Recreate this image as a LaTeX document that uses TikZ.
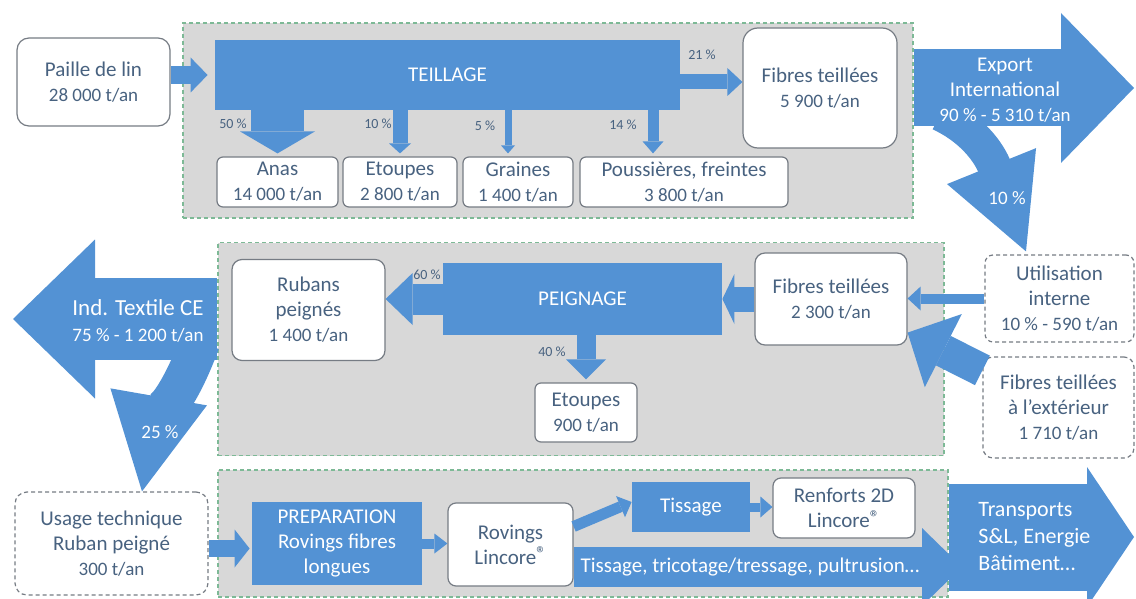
\documentclass[tikz,border=0pt]{standalone}
\usepackage{fontspec}
\setmainfont{Carlito}
\usetikzlibrary{arrows.meta}

\definecolor{flow}{RGB}{83,146,212}
\definecolor{grpgray}{RGB}{216,216,216}
\definecolor{grpline}{RGB}{125,185,150}
\definecolor{boxline}{RGB}{118,124,132}
\definecolor{txt}{RGB}{72,98,128}

\newcommand{\val}[1]{{\fontsize{9.5}{12}\selectfont #1}}
\newcommand{\reg}{\raisebox{0.35ex}{\fontsize{10}{10}\selectfont ®}}

\tikzset{
	group/.style={draw=grpline, fill=grpgray, dash pattern=on 2pt off 1.5pt, line width=0.6pt, inner sep=0pt},
	wh/.style 2 args={minimum width=#1, minimum height=#2},
	box/.style={draw=boxline, fill=white, rounded corners=3pt, line width=0.6pt, align=center, text=txt, inner sep=0pt, font=\fontsize{10.5}{12.5}\selectfont},
	dbox/.style={box, dash pattern=on 2pt off 1.5pt},
	proc/.style={fill=flow, text=white, align=center, inner sep=0pt, font=\fontsize{10.5}{12.5}\selectfont},
	fat/.style n args={3}{draw=flow, line width=#1, -{Triangle[width=#2, length=#3, line width=0pt]}},
	pct/.style={text=txt, inner sep=0pt, font=\fontsize{7}{8}\selectfont},
	wlab/.style={text=white, align=center, inner sep=0pt, font=\fontsize{10.5}{12.5}\selectfont}
}

\begin{document}
\begin{tikzpicture}[x=0.5pt, y=-0.5pt]
	\useasboundingbox (0,0) rectangle (1136,599);
	\clip (0,0) rectangle (1136,599);

%% the three grey zones
	\node[group, wh={365pt}{97.5pt}] (teilbox) at (548,120.5) {};
	\node[group, wh={363pt}{106.5pt}] (peigbox) at (581,349) {};
	\node[group, wh={365pt}{63.5pt}] (prepbox) at (583,533.5) {};

%% teillage
	\node[box, rounded corners=6pt, wh={76.5pt}{44pt}] (paille) at (93.5,82) {Paille de lin\\\val{28 000 t/an}};
	\node[proc, wh={232.5pt}{35pt}] (teillage) at (447.5,75) {TEILLAGE};
	\node[box, rounded corners=7.5pt, wh={77pt}{60pt}] (fibres1) at (820,88) {Fibres teillées\\\val{5 900 t/an}};
	\node[box, wh={60.5pt}{25pt}] (anas) at (277.5,182) {Anas\\\val{14 000 t/an}};
	\node[box, wh={57pt}{25pt}] (etoupes1) at (400,182) {Etoupes\\\val{2 800 t/an}};
	\node[box, wh={55pt}{25pt}] (graines) at (518,182) {Graines\\\val{1 400 t/an}};
	\node[box, wh={104pt}{25pt}] (poussieres) at (684,182) {Poussières, freintes\\\val{3 800 t/an}};

	\draw[fat={9pt}{17.5pt}{8.5pt}] (paille.east |- teillage.west) -- ([xshift=-3.5pt]teillage.west);
	\draw[fat={7.5pt}{14pt}{7.5pt}] ([yshift=-3.5pt]teillage.east) -- ([yshift=-3.5pt]teillage.east -| fibres1.west);
	\draw[fat={26.5pt}{37.5pt}{11pt}] (teillage.south -| anas.north) -- ([yshift=1.5pt]anas.north);
	\draw[fat={7.5pt}{11pt}{5pt}] (teillage.south -| etoupes1.north) -- ([yshift=1.5pt]etoupes1.north);
	\draw[fat={3.5pt}{7pt}{4pt}] ([xshift=-5pt]teillage.south -| graines.north) -- ([xshift=-5pt,yshift=1.5pt]graines.north);
	\draw[fat={5.5pt}{10.5pt}{6pt}] ([xshift=-15.5pt]teillage.south -| poussieres.north) -- ([xshift=-15.5pt,yshift=1.5pt]poussieres.north);

	\node[pct] (p21) at (702,55) {21 \%};
	\node[pct] (p50) at (233,124) {50 \%};
	\node[pct] (p10) at (378,124) {10 \%};
	\node[pct] (p5) at (485,126) {5 \%};
	\node[pct] (p14) at (623,125) {14 \%};

%% export and internal use
	\node[dbox, rounded corners=4pt, wh={74.5pt}{43.5pt}] (interne) at (1059.5,298.5) {Utilisation\\interne\\\val{10 \% - 590 t/an}};
	\coordinate (export) at (1134,88);
	\coordinate (split1) at (940,114);
	\draw[fat={38.5pt}{75pt}{36.5pt}] (teilbox.east |- export) -- (export);
	\draw[fat={17pt}{48pt}{46pt}] (split1) to[out=-25, in=112] ([xshift=-16.75pt,yshift=1.5pt]interne.north);
	\node[wlab] (exportlab) at (1005,90) {Export\\International\\\val{90 \% - 5 310 t/an}};
	\node[wlab, font=\fontsize{9.5}{11}\selectfont] (p10b) at (1007,198) {10 \%};

%% peignage
	\node[box, rounded corners=5pt, wh={76.5pt}{50.5pt}] (rubans) at (308.5,310) {Rubans\\peignés\\\val{1 400 t/an}};
	\node[proc, wh={139.5pt}{36pt}] (peignage) at (582.5,299) {PEIGNAGE};
	\node[box, wh={51pt}{29.5pt}] (etoupes2) at (586,412.5) {Etoupes\\\val{900 t/an}};
	\node[box, rounded corners=5pt, wh={76pt}{46pt}] (fibres2) at (831,299) {Fibres teillées\\\val{2 300 t/an}};
	\node[dbox, rounded corners=5pt, wh={75.5pt}{50.5pt}] (exterieur) at (1058.5,407.5) {Fibres teillées\\à l’extérieur\\\val{1 710 t/an}};

	\draw[fat={12.5pt}{25pt}{6pt}] (fibres2.west) -- (peignage.east);
	\draw[fat={15.5pt}{26pt}{13.5pt}] (peignage.west) -- (peignage.west -| rubans.east);
	\draw[fat={9.5pt}{20pt}{10pt}] (peignage.south -| etoupes2.north) -- ([yshift=1.5pt]etoupes2.north);
	\draw[fat={5pt}{12pt}{6.5pt}] (interne.west) -- (interne.west -| fibres2.east);
	\draw[fat={16.5pt}{41pt}{20pt}] ([yshift=-7pt]exterieur.north west) -- ([yshift=6.5pt]fibres2.south east);

	\node[pct] (p60) at (427,275) {60 \%};
	\node[pct] (p40) at (552,352) {40 \%};

%% textile industry
	\node[dbox, rounded corners=6pt, wh={96.5pt}{51.5pt}] (usage) at (111.5,543.5) {Usage technique\\Ruban peigné\\\val{300 t/an}};
	\coordinate (textile) at (13,319);
	\coordinate (split2) at (200,342);
	\draw[fat={41pt}{79.5pt}{41pt}] (textile -| peigbox.west) -- (textile);
	\draw[fat={20pt}{49pt}{48pt}] (split2) to[out=250, in=80] ([xshift=15.25pt]usage.north);
	\node[wlab, font=\fontsize{11.5}{13}\selectfont] (textlab) at (138,321) {Ind. Textile CE\\\val{75 \% - 1 200 t/an}};
	\node[wlab, font=\fontsize{9.5}{11}\selectfont] (p25) at (160,432) {25 \%};

%% preparation
	\node[proc, wh={85pt}{41.5pt}] (prep) at (337,543.5) {PREPARATION\\Rovings fibres\\longues};
	\node[box, rounded corners=4pt, wh={62.5pt}{41.5pt}] (rovings) at (510.5,544.5) {Rovings\\Lincore\reg};
	\node[proc, wh={59pt}{25pt}] (tissage) at (691,507) {Tissage};
	\node[box, rounded corners=4pt, wh={71pt}{30pt}] (renforts) at (844,508) {Renforts 2D\\Lincore\reg};
	\coordinate (pultru) at (962,567);
	\coordinate (transp) at (1134,537);

	\draw[fat={8.5pt}{19pt}{7.5pt}] ([yshift=-2.5pt]usage.east) -- ([xshift=-1pt,yshift=-2.5pt]usage.east -| prep.west);
	\draw[fat={5pt}{10pt}{6.5pt}] (prep.east) -- (prep.east -| rovings.west);
	\draw[fat={5.5pt}{11.5pt}{6pt}] ([yshift=9pt]rovings.east) -- ([yshift=2.5pt]tissage.west);
	\draw[fat={4.5pt}{10.5pt}{6pt}] (tissage.east) -- (tissage.east -| renforts.west);
	\draw[fat={53.5pt}{70pt}{23.5pt}] (prepbox.east |- transp) -- (transp);
	\draw[fat={20pt}{39pt}{20pt}] (pultru -| rovings.east) -- (pultru);

	\node[wlab] (pultrulab) at (750,567) {Tissage, tricotage/tressage, pultrusion…};
	\node[wlab, align=left, anchor=west, font=\fontsize{11}{13.5}\selectfont] (transplab) at (978,537) {Transports\\S\&L, Energie\\Bâtiment…};
\end{tikzpicture}
\end{document}
